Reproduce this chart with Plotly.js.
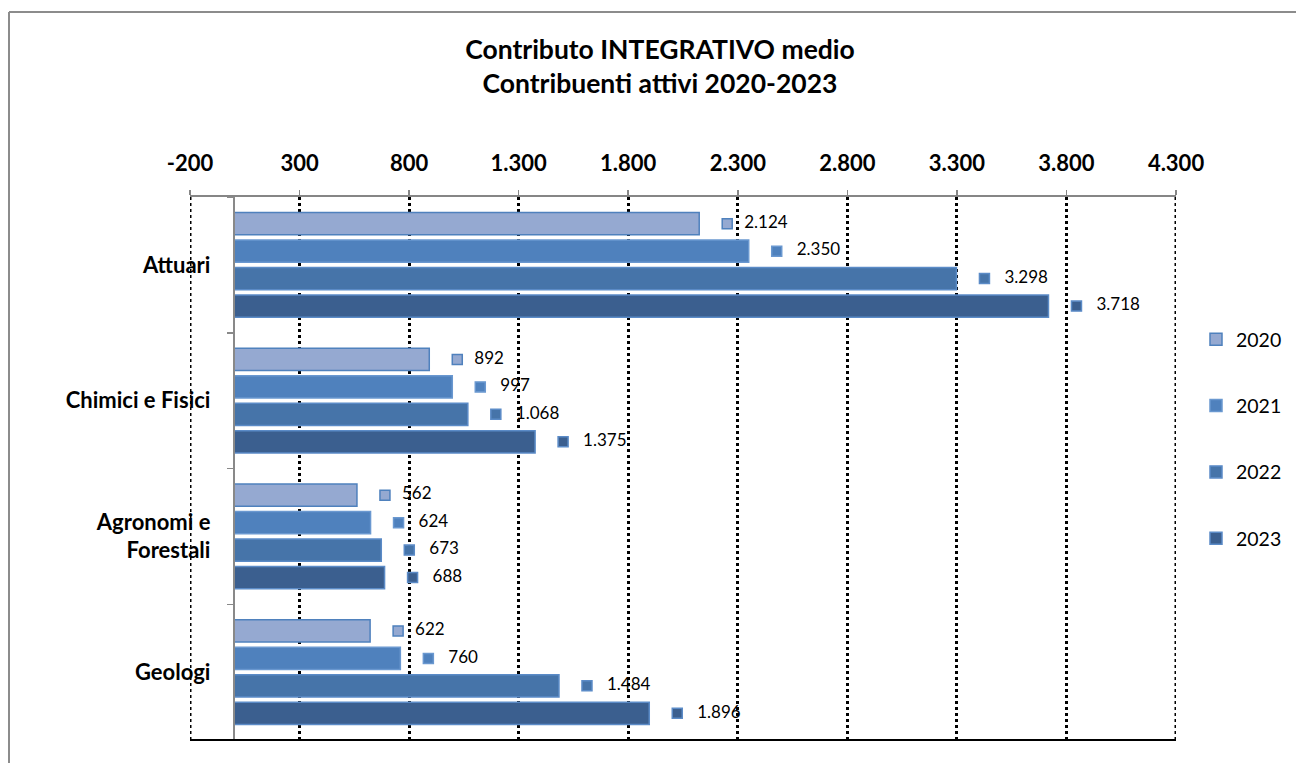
<!DOCTYPE html>
<html>
<head>
<meta charset="utf-8">
<script src="https://cdn.plot.ly/plotly-3.0.1.min.js"></script>
<style>
  html, body { margin: 0; padding: 0; background: #ffffff; }
  #chart { width: 1296px; height: 763px; }
</style>
</head>
<body>
<div id="chart"></div>
<script>
// Average "contributo integrativo" per active contributor, by profession and year
const categories = ['Attuari', 'Chimici e Fisici', 'Agronomi e<br>Forestali', 'Geologi'];
const years = ['2020', '2021', '2022', '2023'];
const v2020 = [2124, 892, 562, 622];
const v2021 = [2350, 997, 624, 760];
const v2022 = [3298, 1068, 673, 1484];
const v2023 = [3718, 1375, 688, 1896];
const tickValues = [-200, 300, 800, 1300, 1800, 2300, 2800, 3300, 3800, 4300];

const series = [v2020, v2021, v2022, v2023];
const fills = ['#95A9D1', '#4F81BD', '#4674A9', '#3B5F8F'];
const edges = ['#4F81BD', '#6A98D0', '#5B8BC7', '#5B8BC7'];

// Italian-style thousands separator
function fmt(n) {
  return String(n).replace(/\B(?=(\d{3})+(?!\d))/g, '.');
}

const W = 1296, H = 763;
const margin = { l: 190, r: 120, t: 197, b: 23 };
const xRange = [-200, 4300];
const plotW = W - margin.l - margin.r;
const plotH = H - margin.t - margin.b;
const unitPerPx = (xRange[1] - xRange[0]) / plotW;

// label pieces sit a few pixels right of each bar end
const markerGapPx = 28;
const textGapPx = [45, 48, 48, 48];

const traces = [];
years.forEach((yr, i) => {
  traces.push({
    type: 'bar',
    orientation: 'h',
    name: yr,
    legendgroup: yr,
    offsetgroup: yr,
    x: series[i],
    y: categories,
    marker: { color: fills[i], line: { color: edges[i], width: 1.5 } },
    hoverinfo: 'x+name'
  });
});
years.forEach((yr, i) => {
  traces.push({
    type: 'scatter',
    orientation: 'h',
    mode: 'markers',
    showlegend: false,
    offsetgroup: yr,
    x: series[i].map(v => v + markerGapPx * unitPerPx),
    y: categories,
    marker: { symbol: 'square', size: 10, color: fills[i], line: { color: edges[i], width: 1.5 } },
    hoverinfo: 'skip'
  });
  traces.push({
    type: 'scatter',
    orientation: 'h',
    mode: 'text',
    showlegend: false,
    offsetgroup: yr,
    x: series[i].map(v => v + textGapPx[i] * unitPerPx),
    y: categories,
    text: series[i].map(fmt),
    textposition: 'middle right',
    textfont: { size: 17, color: '#000000' },
    hoverinfo: 'skip'
  });
});

const px2paperX = p => (p - margin.l) / plotW;
const px2paperY = p => (H - margin.b - p) / plotH;

const layout = {
  width: W,
  height: H,
  margin: { l: margin.l, r: margin.r, t: margin.t, b: margin.b, pad: 0 },
  paper_bgcolor: '#ffffff',
  plot_bgcolor: 'rgba(0,0,0,0)',
  font: { family: 'Lato, Carlito, Calibri, sans-serif', color: '#000000' },
  title: {
    text: '<b>Contributo INTEGRATIVO medio</b><br><b>Contribuenti attivi 2020-2023</b>',
    font: { size: 26.5, color: '#000000' },
    xref: 'container', x: 660 / W, xanchor: 'center',
    yref: 'container', y: 1 - 59 / H, yanchor: 'middle'
  },
  barmode: 'group',
  bargap: 0.19,
  bargroupgap: 0.19,
  scattermode: 'group',
  scattergap: 0.19,
  showlegend: true,
  legend: {
    xref: 'container', x: 1196 / W, xanchor: 'left',
    yref: 'container', y: 1 - 320 / H, yanchor: 'top',
    font: { size: 19.5, color: '#000000' },
    tracegroupgap: 38,
    bgcolor: 'rgba(0,0,0,0)'
  },
  xaxis: {
    side: 'top',
    range: xRange,
    tickmode: 'array',
    tickvals: tickValues,
    ticktext: tickValues.map(fmt),
    showgrid: true,
    gridcolor: '#000000',
    gridwidth: 3,
    griddash: 'dot',
    zeroline: false,
    showline: true,
    linecolor: '#868686',
    linewidth: 2,
    ticks: 'outside',
    ticklen: 5,
    tickwidth: 1.5,
    tickcolor: '#868686',
    ticklabelstandoff: 10,
    tickfont: { size: 22, weight: 'bold', color: '#000000' },
    fixedrange: true
  },
  yaxis: {
    type: 'category',
    categoryorder: 'array',
    categoryarray: categories,
    autorange: 'reversed',
    anchor: 'free',
    position: (0 - xRange[0]) / (xRange[1] - xRange[0]),
    showline: true,
    linecolor: '#898989',
    linewidth: 2,
    ticks: 'outside',
    tickson: 'boundaries',
    ticklen: 6,
    tickwidth: 1.5,
    tickcolor: '#898989',
    showgrid: false,
    zeroline: false,
    ticklabelstandoff: 18,
    tickfont: { size: 22, weight: 'bold', color: '#000000' },
    fixedrange: true
  },
  shapes: [
    // dotted edges of the plot area
    { type: 'line', xref: 'x', yref: 'paper', x0: xRange[0], x1: xRange[0], y0: 0, y1: 1,
      line: { color: '#000000', width: 3, dash: 'dot' }, layer: 'below' },
    { type: 'line', xref: 'x', yref: 'paper', x0: xRange[1], x1: xRange[1], y0: 0, y1: 1,
      line: { color: '#000000', width: 3, dash: 'dot' }, layer: 'below' },
    // solid base line
    { type: 'line', xref: 'paper', yref: 'paper', x0: 0, x1: 1, y0: 0, y1: 0,
      line: { color: '#000000', width: 2 } },
    // outer frame (top and left)
    { type: 'line', xref: 'paper', yref: 'paper', x0: px2paperX(9), x1: px2paperX(W + 5),
      y0: px2paperY(12), y1: px2paperY(12), line: { color: '#8C8C8C', width: 2 } },
    { type: 'line', xref: 'paper', yref: 'paper', x0: px2paperX(9), x1: px2paperX(9),
      y0: px2paperY(12), y1: px2paperY(H + 5), line: { color: '#8C8C8C', width: 2 } }
  ]
};

Plotly.newPlot('chart', traces, layout, { displayModeBar: false, staticPlot: true });
</script>
</body>
</html>
